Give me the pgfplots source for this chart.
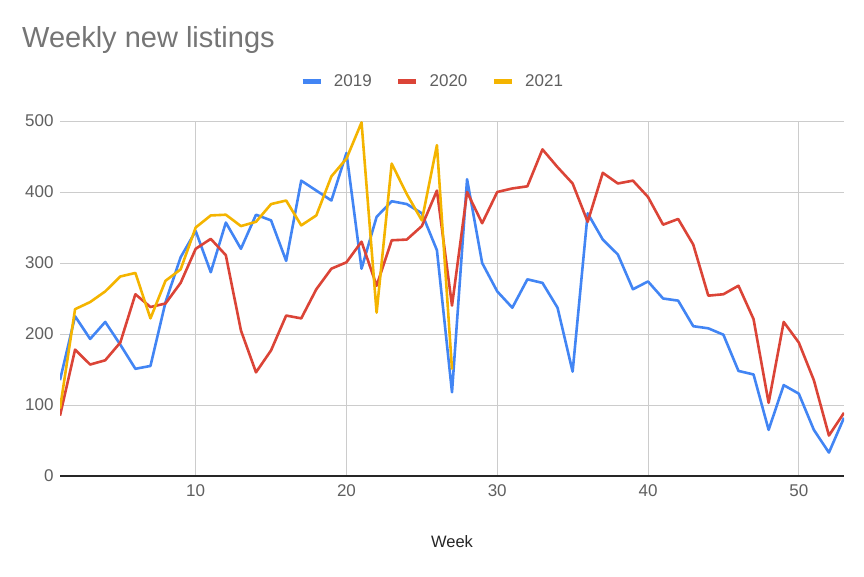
\documentclass[border=0pt]{standalone}
\usepackage{pgfplots}
\pgfplotsset{compat=1.18}
\usepackage{pgfplotstable}
\usepackage{fontspec}
\setmainfont{Liberation Sans}
\definecolor{gblue}{HTML}{4285F4}
\definecolor{gred}{HTML}{DB4437}
\definecolor{gyellow}{HTML}{F4B400}
\definecolor{titlegray}{HTML}{757575}
\definecolor{tickgray}{HTML}{5F5F5F}
\definecolor{gridgray}{HTML}{CCCCCC}

\pgfplotstableread{
week y2019 y2020
1 135 85
2 225 178
3 193 157
4 217 163
5 185 188
6 151 256
7 155 238
8 245 243
9 308 272
10 345 320
11 287 334
12 357 311
13 320 205
14 368 146
15 360 177
16 303 226
17 416 222
18 402 263
19 388 292
20 455 301
21 292 330
22 365 268
23 387 332
24 383 333
25 370 352
26 318 402
27 118 240
28 418 400
29 300 356
30 260 400
31 237 405
32 277 408
33 272 460
34 237 435
35 147 412
36 370 358
37 333 427
38 312 412
39 263 416
40 274 393
41 250 354
42 247 362
43 211 326
44 208 254
45 199 256
46 148 268
47 143 221
48 65 103
49 128 217
50 116 188
51 65 135
52 33 57
53 82 89
}\datamain

\pgfplotstableread{
week y2021
1 95
2 235
3 245
4 260
5 281
6 286
7 222
8 275
9 291
10 350
11 367
12 368
13 352
14 358
15 383
16 388
17 353
18 367
19 422
20 447
21 498
22 230
23 440
24 397
25 360
26 466
27 150
}\datab

\begin{document}
\begin{tikzpicture}
\useasboundingbox (-60pt,-100pt) rectangle (804pt,476pt);
\begin{axis}[
  at={(0pt,0pt)}, anchor=south west,
  scale only axis, width=784pt, height=355pt,
  xmin=1, xmax=53, ymin=0, ymax=500,
  xtick={10,20,30,40,50},
  ytick={0,100,200,300,400,500},
  grid=major,
  major grid style={gridgray, line width=0.9pt},
  major tick length=0pt,
  axis x line*=bottom, axis y line*=left,
  x axis line style={-, draw=black!85, line width=1.2pt},
  y axis line style={draw=none},
  tick label style={font=\fontsize{17}{20}\selectfont, text=tickgray},
  /pgf/number format/assume math mode=true,
  xticklabel style={yshift=-5pt},
  yticklabel style={xshift=-3pt},
  xlabel={Week},
  xlabel style={font=\fontsize{16.5}{19}\selectfont, text=black!85, at={(rel axis cs:0.5,0)}, anchor=center, yshift=-66pt},
  legend columns=3,
  legend style={draw=none, fill=none, font=\fontsize{17}{20}\selectfont, text=tickgray,
    at={(rel axis cs:0.474,1.111)}, anchor=center,
    nodes={inner xsep=0pt},
    /tikz/every even column/.append style={column sep=24pt}},
  legend image code/.code={\draw[line width=5pt] (0pt,0pt) -- (18pt,0pt); \path (30pt,0pt);},
  every axis plot/.append style={line width=2.6pt, line join=round},
]
\addplot[gblue, no markers] table[x=week, y=y2019] {\datamain};
\addlegendentry{2019}
\addplot[gred, no markers] table[x=week, y=y2020] {\datamain};
\addlegendentry{2020}
\addplot[gyellow, no markers] table[x=week, y=y2021] {\datab};
\addlegendentry{2021}
\end{axis}
\node[anchor=base west, inner sep=0pt, text=titlegray, font=\fontsize{29}{33}\selectfont] at (-38pt,428pt) {Weekly new listings};
\end{tikzpicture}
\end{document}
